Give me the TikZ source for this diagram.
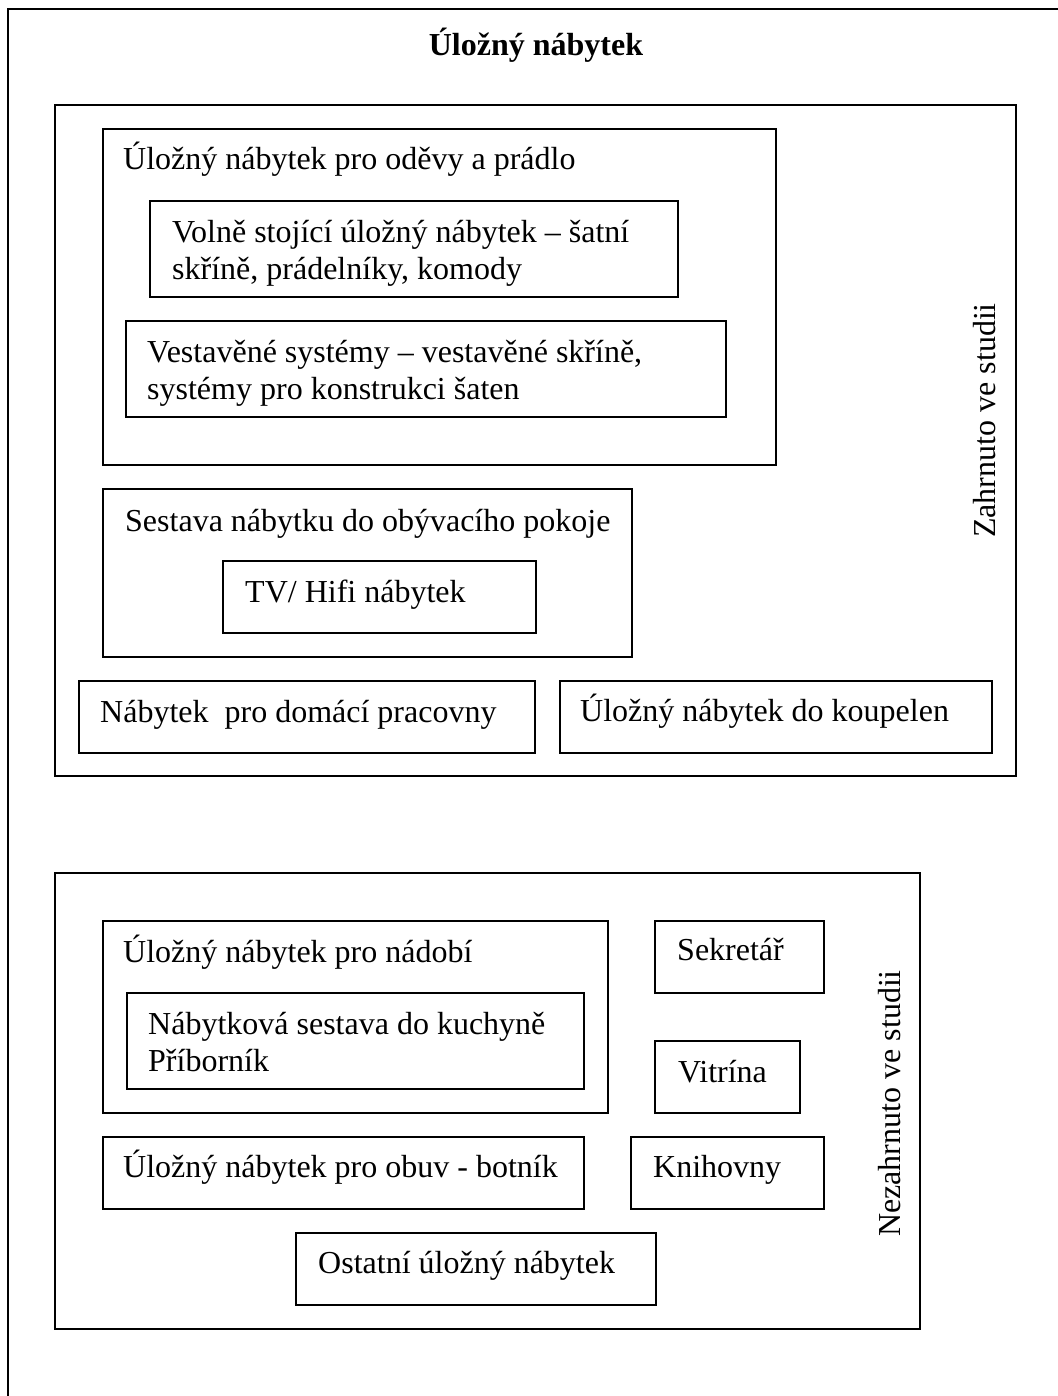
\documentclass[tikz,border=0pt]{standalone}
\usepackage{fontspec}
\setmainfont{Liberation Serif}
\begin{document}
\begin{tikzpicture}[x=1pt,y=-1pt,
  box/.style={draw=black,line width=2pt},
  lbl/.style={anchor=base west,inner sep=0pt,font=\fontsize{32}{37}\selectfont,align=left},
  vlbl/.style={anchor=base west,inner sep=0pt,font=\fontsize{32}{37}\selectfont,rotate=90}]
\useasboundingbox (0,0) rectangle (1057,1396);
\draw[line width=2pt] (8,1400) -- (8,9) -- (1060,9);
\node[anchor=base,inner sep=0pt,font=\fontsize{32}{37}\selectfont\bfseries] (title) at (536,56) {Úložný nábytek};
% included group
\draw[box] (55,105) rectangle (1016,776);
\node[vlbl] (zahr) at (995,538) {Zahrnuto ve studii};
\draw[box] (103,129) rectangle (776,465);
\node[lbl] (odevy) at (123,170) {Úložný nábytek pro oděvy a prádlo};
\draw[box] (150,201) rectangle (678,297);
\node[lbl,anchor=north west] (volne) at (172,220) {Volně stojící úložný nábytek – šatní\\skříně, prádelníky, komody};
\draw[box] (126,321) rectangle (726,417);
\node[lbl,anchor=north west] (vest) at (147,340) {Vestavěné systémy – vestavěné skříně,\\systémy pro konstrukci šaten};
\draw[box] (103,489) rectangle (632,657);
\node[lbl] (sestava) at (125,531) {Sestava nábytku do obývacího pokoje};
\draw[box] (223,561) rectangle (536,633);
\node[lbl] (tv) at (245,602) {TV/ Hifi nábytek};
\draw[box] (79,681) rectangle (535,753);
\node[lbl] (prac) at (100,722) {Nábytek\ \ pro domácí pracovny};
\draw[box] (560,681) rectangle (992,753);
\node[lbl] (koup) at (580,721) {Úložný nábytek do koupelen};
% not included group
\draw[box] (55,873) rectangle (920,1329);
\node[vlbl] (nezahr) at (900,1237) {Nezahrnuto ve studii};
\draw[box] (103,921) rectangle (608,1113);
\node[lbl] (nadobi) at (123,962) {Úložný nábytek pro nádobí};
\draw[box] (127,993) rectangle (584,1089);
\node[lbl,anchor=north west] (kuch) at (148,1012) {Nábytková sestava do kuchyně\\Příborník};
\draw[box] (655,921) rectangle (824,993);
\node[lbl] (sekr) at (677,960) {Sekretář};
\draw[box] (655,1041) rectangle (800,1113);
\node[lbl] (vitr) at (678,1082) {Vitrína};
\draw[box] (103,1137) rectangle (584,1209);
\node[lbl] (obuv) at (123,1177) {Úložný nábytek pro obuv - botník};
\draw[box] (631,1137) rectangle (824,1209);
\node[lbl] (knih) at (653,1177) {Knihovny};
\draw[box] (296,1233) rectangle (656,1305);
\node[lbl] (ost) at (318,1273) {Ostatní úložný nábytek};
\end{tikzpicture}
\end{document}
